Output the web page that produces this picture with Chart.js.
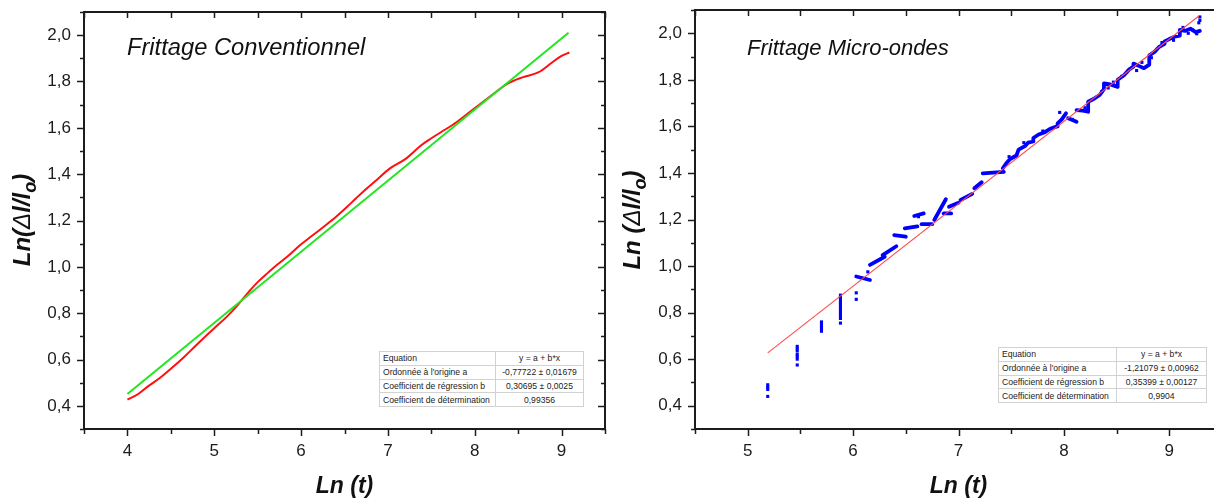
<!DOCTYPE html>
<html>
<head>
<meta charset="utf-8">
<script src="https://cdn.jsdelivr.net/npm/chart.js@4.4.0/dist/chart.umd.min.js"></script>
<style>
  html, body { margin: 0; padding: 0; background: #fff; overflow: hidden; }
  body { width: 1214px; height: 499px; position: relative; font-family: 'Liberation Sans', Arial, sans-serif; }
  .panel { position: absolute; top: 0; height: 499px; overflow: hidden; }
  #leftPanel { left: 0; width: 610px; }
  #rightPanel { left: 610px; width: 604px; }
  table.fit { position: absolute; border-collapse: collapse; font-size: 8.6px; color: #222; background: #fff; border: 1px solid #8a8a8a; }
  table.fit td { border: 1px solid #d2d2d2; padding: 0 3px; height: 12.8px; line-height: 12px; white-space: nowrap; }
  table.fit td:last-child { text-align: center; }
</style>
</head>
<body>
<div class="panel" id="leftPanel">
  <canvas id="convChart" width="610" height="499"></canvas>
  <table class="fit" id="convTable" style="left:379px; top:351px;"></table>
</div>
<div class="panel" id="rightPanel">
  <canvas id="mwChart" width="620" height="499"></canvas>
  <table class="fit" id="mwTable" style="left:388px; top:347px;"></table>
</div>
<script>
// --- data ---
const yTickVals = [0.4, 0.6, 0.8, 1.0, 1.2, 1.4, 1.6, 1.8, 2.0];
const yTickText = ['0,4', '0,6', '0,8', '1,0', '1,2', '1,4', '1,6', '1,8', '2,0'];
const convXTicks = [4, 5, 6, 7, 8, 9];
const mwXTicks = [5, 6, 7, 8, 9];

// Frittage conventionnel : measured curve (red) + linear fit (green)
const convX = [4.0, 4.12, 4.24, 4.38, 4.51, 4.65, 4.78, 4.9, 5.0, 5.14, 5.27, 5.4, 5.5, 5.62, 5.72, 5.86, 5.99, 6.13, 6.26, 6.4, 6.53, 6.63, 6.73, 6.88, 7.02, 7.2, 7.38, 7.5, 7.61, 7.79, 7.99, 8.19, 8.37, 8.55, 8.73, 8.89, 9.0, 9.09];
const convY = [0.427, 0.45, 0.485, 0.522, 0.563, 0.61, 0.657, 0.7, 0.735, 0.783, 0.835, 0.893, 0.934, 0.975, 1.008, 1.05, 1.094, 1.135, 1.173, 1.215, 1.259, 1.295, 1.33, 1.378, 1.424, 1.465, 1.524, 1.555, 1.581, 1.624, 1.682, 1.739, 1.789, 1.818, 1.839, 1.882, 1.911, 1.925];
const convFitX = [4.0, 9.08];
const convFitY = [0.451, 2.01];
const convTableRows = [
  ['Equation', 'y = a + b*x'],
  ["Ordonnée à l'origine a", '-0,77722 ± 0,01679'],
  ['Coefficient de régression b', '0,30695 ± 0,0025'],
  ['Coefficient de détermination', '0,99356']
];

// Frittage micro-ondes : points (blue) + linear fit (red)
const mwDotX = [5.19, 5.19, 5.19, 5.19,
  5.47, 5.47, 5.47, 5.47, 5.47, 5.47, 5.47,
  5.70, 5.70, 5.70, 5.70, 5.70,
  5.88, 5.88, 5.88, 5.88, 5.88, 5.88, 5.88, 5.88, 5.88, 5.88, 5.88, 5.88,
  6.03, 6.03, 6.14, 6.62,
  7.48, 7.62, 7.80, 7.96, 8.08, 8.20, 8.36, 8.42, 8.47, 8.55, 8.69, 8.74, 8.83, 8.93, 9.04,
  9.13, 9.18, 9.22, 9.26, 9.28, 9.29, 9.29];
const mwDotY = [0.49, 0.48, 0.47, 0.44,
  0.655, 0.645, 0.635, 0.62, 0.61, 0.60, 0.575,
  0.76, 0.75, 0.74, 0.73, 0.72,
  0.875, 0.865, 0.855, 0.845, 0.835, 0.825, 0.815, 0.805, 0.795, 0.785, 0.775, 0.755,
  0.885, 0.857, 0.975, 1.212,
  1.47, 1.53, 1.58, 1.66, 1.63, 1.68, 1.75, 1.765, 1.79, 1.815, 1.84, 1.875, 1.895, 1.96, 1.97,
  2.025, 2.0, 2.015, 1.998, 2.045, 2.055, 2.07];
const mwDashes = [
  [[6.03, 0.955], [6.16, 0.94]],
  [[6.16, 1.005], [6.30, 1.04]],
  [[6.28, 1.047], [6.41, 1.085]],
  [[6.39, 1.133], [6.50, 1.126]],
  [[6.49, 1.162], [6.61, 1.170]],
  [[6.58, 1.215], [6.67, 1.226]],
  [[6.65, 1.18], [6.75, 1.18]],
  [[6.77, 1.198], [6.88, 1.287]],
  [[6.86, 1.226], [6.93, 1.226]],
  [[6.91, 1.255], [7.00, 1.272]],
  [[7.02, 1.284], [7.13, 1.31]],
  [[7.15, 1.334], [7.22, 1.36]],
  [[7.23, 1.398], [7.43, 1.405]],
  [[7.42, 1.42], [7.46, 1.445], [7.49, 1.46], [7.55, 1.475], [7.57, 1.50], [7.63, 1.515], [7.66, 1.53],
   [7.71, 1.535], [7.71, 1.55], [7.76, 1.565], [7.82, 1.575], [7.87, 1.59], [7.935, 1.60], [7.94, 1.613],
   [7.98, 1.63], [8.02, 1.656]],
  [[8.04, 1.635], [8.12, 1.62]],
  [[8.12, 1.67], [8.18, 1.668], [8.23, 1.663], [8.23, 1.706], [8.29, 1.72], [8.34, 1.735], [8.38, 1.76],
   [8.38, 1.785], [8.44, 1.78], [8.51, 1.77], [8.51, 1.80], [8.57, 1.82], [8.62, 1.845], [8.66, 1.857],
   [8.66, 1.87], [8.71, 1.86], [8.76, 1.85], [8.81, 1.865], [8.81, 1.905], [8.86, 1.92], [8.90, 1.94],
   [8.955, 1.955], [8.955, 1.965], [9.00, 1.975], [9.05, 1.985], [9.10, 1.99], [9.10, 2.015], [9.15, 2.01],
   [9.20, 2.02], [9.25, 2.005], [9.29, 2.01]]
];
const mwFitX = [5.19, 9.28];
const mwFitY = [0.627, 2.074];
const mwTableRows = [
  ['Equation', 'y = a + b*x'],
  ["Ordonnée à l'origine a", '-1,21079 ± 0,00962'],
  ['Coefficient de régression b', '0,35399 ± 0,00127'],
  ['Coefficient de détermination', '0,9904']
];

const FONT = "'Liberation Sans', Arial, sans-serif";
const INK = '#1c1c1c';

const toPoints = (xs, ys) => xs.map((x, i) => ({ x, y: ys[i] }));

// frame with Origin-like ticks: outward on left/bottom, inward on top/right
const frameTicks = {
  id: 'frameTicks',
  afterDraw(chart) {
    const { ctx, chartArea: a, scales: { x, y } } = chart;
    ctx.save();
    ctx.strokeStyle = INK;
    ctx.lineWidth = 1.5;
    const seg = (x1, y1, x2, y2) => { ctx.beginPath(); ctx.moveTo(x1, y1); ctx.lineTo(x2, y2); ctx.stroke(); };
    for (let v = x.min; v <= x.max + 1e-9; v += 0.5) {
      const px = Math.round(x.getPixelForValue(v)) + 0.5;
      const len = Math.abs(v - Math.round(v)) < 1e-6 ? 7 : 5;
      seg(px, a.bottom, px, a.bottom + len);
      seg(px, a.top, px, a.top + 6);
    }
    for (let v = y.min; v <= y.max + 1e-9; v += 0.1) {
      const py = Math.round(y.getPixelForValue(v)) + 0.5;
      const major = Math.abs(v * 5 - Math.round(v * 5)) < 1e-6;
      const len = major ? 7 : 4;
      seg(a.left - len, py, a.left, py);
      seg(a.right - len, py, a.right, py);
    }
    ctx.lineWidth = 2;
    ctx.strokeRect(a.left, a.top, a.right - a.left, a.bottom - a.top);
    ctx.restore();
  }
};

// panel title + axis titles (with subscript o)
const axisTitles = {
  id: 'axisTitles',
  afterDraw(chart, args, o) {
    const { ctx, chartArea: a } = chart;
    ctx.save();
    ctx.fillStyle = '#111';
    ctx.textBaseline = 'alphabetic';
    ctx.textAlign = 'left';
    ctx.font = 'italic ' + o.titleSize + 'px ' + FONT;
    ctx.fillText(o.title, o.titleX, 55);

    ctx.font = 'bold italic 23px ' + FONT;
    ctx.textAlign = 'center';
    ctx.fillText('Ln (t)', (a.left + a.right) / 2, 493);

    const parts = [
      { t: o.yPrefix, f: 'bold italic 24px ' + FONT, dy: 0 },
      { t: 'Δ', f: 'italic 24px ' + FONT, dy: 0 },
      { t: 'l/l', f: 'bold italic 24px ' + FONT, dy: 0 },
      { t: 'o', f: 'bold italic 18px ' + FONT, dy: 6 },
      { t: ')', f: 'bold italic 24px ' + FONT, dy: 0 }
    ];
    let total = 0;
    parts.forEach(p => { ctx.font = p.f; p.w = ctx.measureText(p.t).width; total += p.w; });
    ctx.translate(30, 220);
    ctx.rotate(-Math.PI / 2);
    ctx.textAlign = 'left';
    let cx = -total / 2;
    parts.forEach(p => { ctx.font = p.f; ctx.fillText(p.t, cx, p.dy); cx += p.w; });
    ctx.restore();
  }
};

function axes(xMin, xMax, xTicks, yWidth) {
  const tickFont = { family: FONT, size: 17 };
  return {
    x: {
      type: 'linear', min: xMin, max: xMax,
      afterFit: s => { s.height = 70; s.paddingLeft = 0; s.paddingRight = 0; },
      afterBuildTicks: s => { s.ticks = xTicks.map(v => ({ value: v })); },
      ticks: { font: tickFont, color: INK, padding: 12, maxRotation: 0, callback: (v, i) => String(xTicks[i]) },
      grid: { display: false, drawTicks: false },
      border: { display: false }
    },
    y: {
      type: 'linear', min: 0.3, max: 2.1,
      afterFit: s => { s.width = yWidth; s.paddingTop = 0; s.paddingBottom = 0; },
      afterBuildTicks: s => { s.ticks = yTickVals.map(v => ({ value: v })); },
      ticks: { font: tickFont, color: INK, padding: 13, callback: (v, i) => yTickText[i] },
      grid: { display: false, drawTicks: false },
      border: { display: false }
    }
  };
}

const baseOptions = {
  responsive: false,
  animation: false,
  events: [],
  plugins: { legend: { display: false }, tooltip: { enabled: false } }
};

new Chart(document.getElementById('convChart'), {
  type: 'scatter',
  data: {
    datasets: [
      { data: toPoints(convFitX, convFitY), showLine: true, borderColor: '#22e622', borderWidth: 2, pointRadius: 0 },
      { data: toPoints(convX, convY), showLine: true, borderColor: '#ff1010', borderWidth: 2, pointRadius: 0, tension: 0.35 }
    ]
  },
  options: Object.assign({}, baseOptions, {
    layout: { padding: { top: 12, right: 5, left: 0, bottom: 0 } },
    scales: axes(3.5, 9.5, convXTicks, 84),
    plugins: Object.assign({}, baseOptions.plugins, {
      axisTitles: { title: 'Frittage Conventionnel', titleX: 127, titleSize: 23.7, yPrefix: 'Ln(' }
    })
  }),
  plugins: [frameTicks, axisTitles]
});

const dashSets = mwDashes.map(seg => ({
  data: seg.map(p => ({ x: p[0], y: p[1] })),
  showLine: true, borderColor: '#0000ff', borderWidth: 3.8, borderCapStyle: 'round', borderJoinStyle: 'round', pointRadius: 0
}));

new Chart(document.getElementById('mwChart'), {
  type: 'scatter',
  data: {
    datasets: [
      { data: toPoints(mwFitX, mwFitY), showLine: true, borderColor: '#ff4a4a', borderWidth: 1.1, pointRadius: 0 },
      { data: toPoints(mwDotX, mwDotY), pointStyle: 'rect', pointRadius: 2.2, backgroundColor: '#0000ff', borderWidth: 0 }
    ].concat(dashSets)
  },
  options: Object.assign({}, baseOptions, {
    layout: { padding: { top: 10, right: 8, left: 0, bottom: 0 } },
    scales: axes(4.5, 9.5, mwXTicks, 85),
    plugins: Object.assign({}, baseOptions.plugins, {
      axisTitles: { title: 'Frittage Micro-ondes', titleX: 137, titleSize: 22, yPrefix: 'Ln (' }
    })
  }),
  plugins: [frameTicks, axisTitles]
});

function fillTable(id, rows, w1, w2) {
  const t = document.getElementById(id);
  rows.forEach(r => {
    const tr = document.createElement('tr');
    r.forEach((txt, i) => {
      const td = document.createElement('td');
      td.textContent = txt;
      td.style.width = (i === 0 ? w1 : w2) + 'px';
      td.style.maxWidth = td.style.width;
      tr.appendChild(td);
    });
    t.appendChild(tr);
  });
}
fillTable('convTable', convTableRows, 109, 81);
fillTable('mwTable', mwTableRows, 111, 83);
</script>
</body>
</html>
